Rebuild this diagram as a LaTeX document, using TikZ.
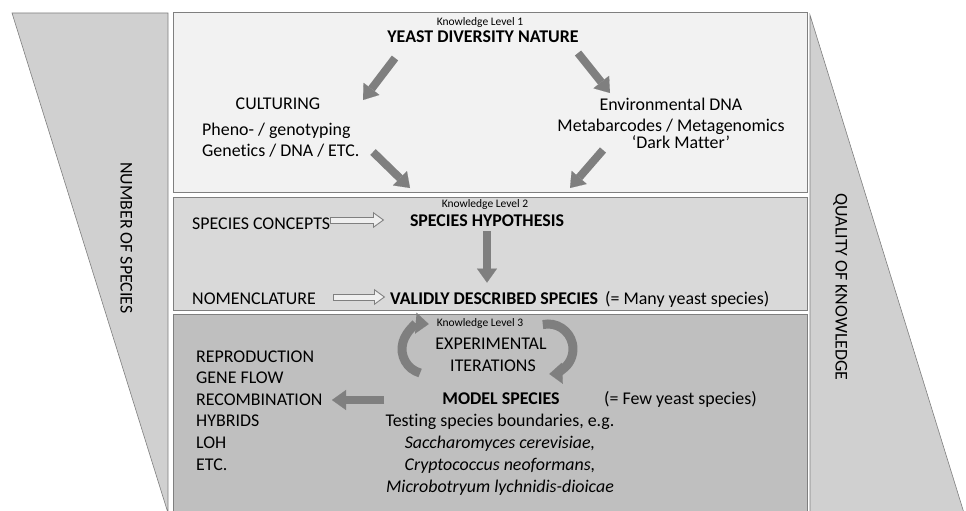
\documentclass[tikz,border=0pt]{standalone}
\usepackage{fontspec}
\setmainfont{Carlito}[Ligatures=NoCommon]
\usetikzlibrary{arrows.meta,positioning}

\definecolor{lineg}{HTML}{7F7F7F}
\definecolor{arrowg}{HTML}{7F7F7F}
\definecolor{levone}{HTML}{F2F2F2}
\definecolor{levtwo}{HTML}{D9D9D9}
\definecolor{levthree}{HTML}{BFBFBF}
\definecolor{sideg}{HTML}{D0D0D0}
\definecolor{hollowg}{HTML}{EFEFEF}

\begin{document}
\begin{tikzpicture}[x=1pt,y=-1pt,node distance=4.5pt,
    txt/.style={font=\fontsize{17.9}{21}\selectfont,inner sep=0pt,text height=12.7pt,text depth=4pt},
    bold/.style={txt,font=\fontsize{17.9}{21}\selectfont\bfseries},
    ital/.style={txt,font=\fontsize{17.9}{21}\selectfont\itshape},
    level/.style={font=\fontsize{11.5}{13}\selectfont,inner sep=0pt},
    box/.style={draw=lineg,line width=1pt},
    side/.style={draw=lineg,fill=sideg,line width=0.6pt},
    fat/.style={draw=arrowg,line width=8pt,-{Triangle[width=20pt,length=14pt,line width=0.1pt]}},
    curl/.style={draw=arrowg,line width=9pt,-{Triangle[width=21pt,length=13pt,line width=0.1pt]}},
    hollowout/.style={draw=lineg,line width=7pt,-{Triangle[width=16pt,length=11pt,line width=0.1pt]}},
    hollowin/.style={draw=hollowg,line width=5pt,shorten <=1pt,shorten >=1.7pt,-{Triangle[width=12pt,length=8.3pt,line width=0.1pt]}}]

        \useasboundingbox (0,0) rectangle (966,511);

        % side wedges and the three levels
        \draw[side] (12,13) -- (168,13) -- (168,513) -- cycle;
        \draw[side] (810,15) -- (964,513) -- (810,513) -- cycle;
        \draw[box,fill=levone]   (173,13)  rectangle (807,192);
        \draw[box,fill=levtwo]   (173,197) rectangle (807,310);
        \draw[box,fill=levthree] (173,314) rectangle (807,520);

        \node[txt,rotate=-90] (nsp) at (125,238) {NUMBER OF SPECIES};
        \node[txt,rotate=-90] (qok) at (840,287) {QUALITY OF KNOWLEDGE};

        % level 1
        \node[level,anchor=base] (lv1)   at (480,26)  {Knowledge Level 1};
        \node[bold,anchor=base]  (yeast) at (483,43)  {YEAST DIVERSITY NATURE};
        \node[txt,anchor=base]   (cult)  at (278,109) {CULTURING};
        \node[txt,anchor=base west] (pheno) at (202,135) {Pheno- / genotyping};
        \node[txt] (genet) [below=4.3pt of pheno.south west,anchor=north west] {Genetics / DNA / ETC.};
        \node[txt,anchor=base]   (env)   at (671,110) {Environmental DNA};
        \node[txt,anchor=base]   (meta)  at (671,131) {Metabarcodes / Metagenomics};
        \node[txt,anchor=base]   (dark)  at (681,148) {`Dark Matter'};

        % level 2
        \node[level,anchor=base] (lv2)   at (485,207) {Knowledge Level 2};
        \node[bold,anchor=base]  (hyp)   at (487,226) {SPECIES HYPOTHESIS};
        \node[txt,anchor=base west] (conc)  at (192,229) {SPECIES CONCEPTS};
        \node[txt,anchor=base west] (nom)   at (192,304) {NOMENCLATURE};
        \node[bold,anchor=base west] (valid) at (390,304) {VALIDLY DESCRIBED SPECIES};
        \node[txt,anchor=base west]  (many)  at (605,304) {(= Many yeast species)};

        % level 3
        \node[level,anchor=base] (lv3)   at (480,326) {Knowledge Level 3};
        \node[txt,anchor=base]   (exper) at (491,349) {EXPERIMENTAL};
        \node[txt,anchor=base]   (iter)  at (493,371) {ITERATIONS};
        \node[txt,anchor=base west] (repro) at (196,362) {REPRODUCTION};
        \node[txt] (gene)   [below=of repro.south west,anchor=north west]  {GENE FLOW};
        \node[txt] (recomb) [below=of gene.south west,anchor=north west]   {RECOMBINATION};
        \node[txt] (hybr)   [below=of recomb.south west,anchor=north west] {HYBRIDS};
        \node[txt] (loh)    [below=of hybr.south west,anchor=north west]   {LOH};
        \node[txt] (etc)    [below=of loh.south west,anchor=north west]    {ETC.};
        \node[bold,anchor=base]  (model) at (501,404) {MODEL SPECIES};
        \node[txt,anchor=base west] (few) at (604,404) {(= Few yeast species)};
        \node[txt,anchor=base]   (test)  at (500,426) {Testing species boundaries, e.g.};
        \node[ital] (sacc)  [below=5pt of test]  {Saccharomyces cerevisiae,};
        \node[ital] (cryp)  [below=5pt of sacc]  {Cryptococcus neoformans,};
        \node[ital] (micro) [below=5pt of cryp]  {Microbotryum lychnidis-dioicae};

        % arrow ends
        \coordinate (ys1) at (395,58);  \coordinate (cu1) at (363,100);
        \coordinate (ys2) at (578,53);  \coordinate (en1) at (610,93);
        \coordinate (ge1) at (373,152); \coordinate (hy1) at (410,188);
        \coordinate (da1) at (603,150); \coordinate (hy2) at (570,188);
        \coordinate (co1) at (330,220); \coordinate (hy3) at (384,220);
        \coordinate (no1) at (333,297); \coordinate (va1) at (385,297);
        \coordinate (mo1) at (384,400); \coordinate (re1) at (332,400);
        \coordinate (lc)  at (427,349); \coordinate (rc)  at (548,349);

        \draw[fat] (ys1) -- (cu1);
        \draw[fat] (ys2) -- (en1);
        \draw[fat] (ge1) -- (hy1);
        \draw[fat] (da1) -- (hy2);
        \draw[fat,shorten <=1pt,shorten >=8.5pt] (hyp.south) -- (hyp.south |- valid.north);
        \draw[fat] (mo1) -- (re1);

        \draw[hollowout] (co1) -- (hy3);
        \draw[hollowin]  (co1) -- (hy3);
        \draw[hollowout] (no1) -- (va1);
        \draw[hollowin]  (no1) -- (va1);

        \draw[curl] (lc) ++(106:25) arc[start angle=106,end angle=274,radius=25];
        \draw[curl] (rc) ++(258:25) arc[start angle=258,end angle=447,radius=25];
\end{tikzpicture}
\end{document}
